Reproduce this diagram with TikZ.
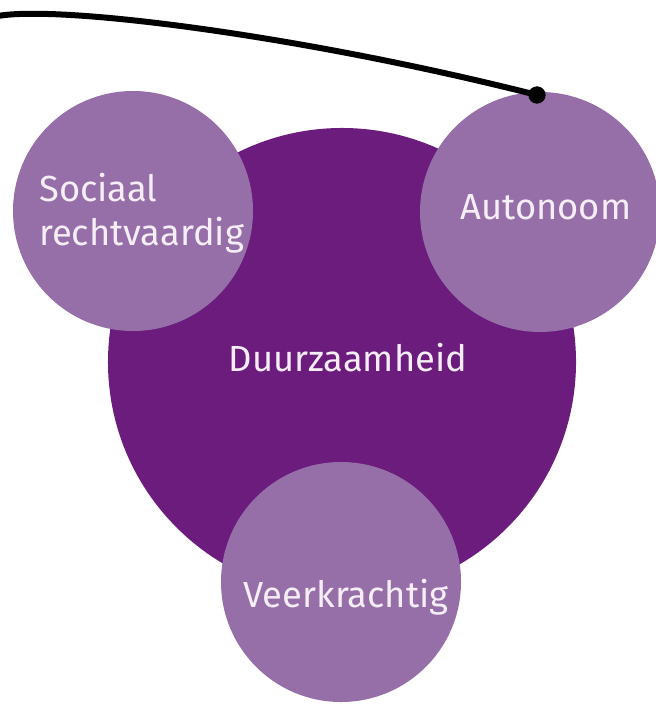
\documentclass[tikz,border=0pt]{standalone}
\usepackage{fontspec}
\setmainfont{Fira Sans}
\definecolor{donkerpaars}{HTML}{6B1C7D}
\definecolor{lichtpaars}{HTML}{966EA8}
\definecolor{tekstwit}{HTML}{F6EEF6}
\begin{document}
\begin{tikzpicture}[x=.03cm, y=-.03cm, line join=round, line cap=round,
	kern/.style={circle, fill=donkerpaars, inner sep=0pt, minimum size=14.04cm},
	pijler/.style={circle, fill=lichtpaars, inner sep=0pt, minimum size=7.2cm},
	tekst/.style={text=tekstwit, font=\fontsize{31}{38}\selectfont, inner sep=0pt}]
		\useasboundingbox (0,0) rectangle (656,705);
		\node[kern] (kern) at (342,362) {};
		\node[tekst] (kern-t) at (348,358) {Duurzaamheid};
		\foreach \n/\p in {sociaal/{133,211},autonoom/{540,212},veerkr/{341,582}}
		\node[pijler] (\n) at (\p) {};
		\node[tekst, align=left, anchor=west] (sociaal-t) at (39,213) {Sociaal\\rechtvaardig};
		\node[tekst] (autonoom-t) at (546,207) {Autonoom};
		\node[tekst] (veerkr-t) at (346,597) {Veerkrachtig};
		\coordinate (start) at (-2,16);
		\node[circle, fill=black, inner sep=0pt, minimum size=.52cm] (punt) at (537,95) {};
		\draw[line width=1.8mm] (start) .. controls (60,5) and (300,35) .. (punt.center);
		\end{tikzpicture}
\end{document}
